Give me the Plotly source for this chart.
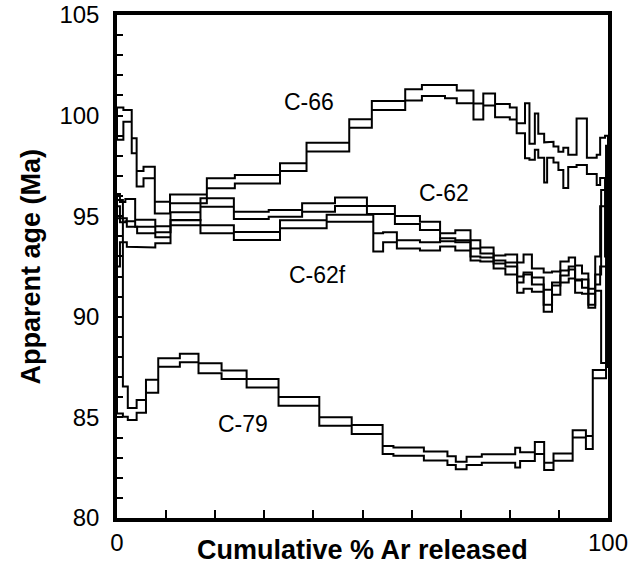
import plotly.graph_objects as go

# ---- data: step edges (cumulative % 39Ar released), apparent ages (Ma), half-heights of boxes (Ma)
c66_edges = [0, 1.3, 3.0, 4.0, 5.4, 7.7, 10.8, 18.3, 24.0, 33.2, 38.6, 47.3, 51.9, 58.7, 62.1, 66.8,
             69.2, 72.6, 74.6, 77.0, 80.0, 81.4, 83.1, 84.0, 85.1, 85.8, 87.0, 87.6, 88.9, 89.9, 90.9,
             91.9, 93.6, 95.7, 97.7, 98.4, 99.4, 100]
c66_age = [99.6, 99.99, 98.5, 96.86, 97.17, 95.43, 95.86, 96.64, 96.84, 97.44, 98.43, 99.61, 100.5,
           101.03, 101.25, 101.19, 100.93, 100.2, 100.8, 100.25, 100.1, 99.37, 99.25, 98.2, 99.2, 98.5,
           97.67, 98.3, 98.07, 97.75, 97.4, 97.75, 98.7, 97.5, 97.3, 97.9, 96.0]
c66_err = [0.8, 0.29, 0.37, 0.39, 0.29, 0.29, 0.22, 0.25, 0.21, 0.19, 0.22, 0.21, 0.22, 0.28, 0.27,
           0.33, 0.32, 0.4, 0.3, 0.33, 0.3, 0.25, 1.37, 0.4, 0.9, 0.6, 1.0, 0.4, 0.4, 0.45, 1.0, 0.3,
           1.16, 0.4, 0.75, 1.0, 3.0]

c62_edges = [0, 0.6, 1.7, 3.7, 7.8, 10.9, 17.0, 23.8, 30.9, 37.7, 44.4, 50.9, 56.6, 61.7, 65.8, 68.9,
             72.0, 74.0, 76.7, 79.1, 81.5, 82.8, 84.5, 86.9, 88.6, 90.3, 92.0, 93.3, 94.7, 96.0, 97.4,
             98.4, 100]
c62_age = [95.5, 95.2, 95.3, 94.65, 94.35, 95.0, 95.68, 95.04, 95.14, 95.43, 95.72, 95.31, 94.81,
           94.52, 93.95, 94.0, 93.4, 93.2, 92.85, 92.8, 92.2, 92.6, 92.0, 91.4, 91.9, 92.4, 92.65,
           92.2, 91.8, 91.0, 92.3, 94.0]
c62_err = [0.6, 0.5, 0.55, 0.17, 0.15, 0.2, 0.21, 0.18, 0.17, 0.21, 0.21, 0.2, 0.2, 0.2, 0.2, 0.3,
           0.4, 0.25, 0.2, 0.3, 0.5, 0.5, 0.4, 0.8, 0.35, 0.35, 0.3, 0.35, 0.35, 0.4, 0.7, 1.5]

c62f_edges = [0, 0.6, 2.0, 4.1, 7.8, 10.9, 17.0, 23.8, 33.2, 42.7, 52.2, 54.2, 57.0, 61.7, 65.8, 68.9,
              72.0, 74.0, 76.7, 79.1, 81.5, 82.8, 84.5, 86.9, 88.6, 90.3, 92.0, 93.3, 94.7, 96.0, 97.4,
              98.6, 100]
c62f_age = [94.0, 94.3, 93.98, 93.8, 93.8, 94.68, 94.35, 94.02, 94.6, 94.9, 93.7, 93.95, 93.6, 93.5,
            93.7, 93.55, 93.1, 92.95, 92.6, 92.4, 91.6, 91.8, 91.6, 90.8, 91.4, 92.0, 92.2, 91.5, 91.5,
            90.8, 91.7, 92.0]
c62f_err = [1.5, 0.6, 0.5, 0.35, 0.15, 0.13, 0.2, 0.2, 0.2, 0.17, 0.45, 0.25, 0.2, 0.2, 0.2, 0.25,
            0.3, 0.2, 0.2, 0.3, 0.4, 0.4, 0.35, 0.55, 0.3, 0.3, 0.3, 0.3, 0.35, 0.35, 0.4, 4.3]

c79_edges = [0, 1.2, 2.2, 4.0, 5.9, 8.4, 12.8, 16.6, 21.3, 26.4, 32.9, 41.2, 47.8, 54.1, 56.3, 62.5,
             67.3, 69.0, 71.2, 74.3, 81.1, 82.1, 85.1, 87.0, 88.9, 92.8, 95.5, 96.9, 99.6, 100]
c79_age = [90.5, 85.78, 85.17, 85.55, 86.55, 87.73, 87.95, 87.44, 87.12, 86.7, 85.8, 84.8, 84.4,
           83.38, 83.3, 83.08, 82.85, 82.61, 82.84, 82.96, 83.0, 83.05, 83.48, 82.57, 83.03, 84.18,
           83.75, 87.15, 93.0]
c79_err = [5.3, 0.75, 0.3, 0.32, 0.32, 0.21, 0.21, 0.25, 0.21, 0.21, 0.22, 0.21, 0.22, 0.2, 0.21,
           0.22, 0.22, 0.19, 0.21, 0.21, 0.49, 0.22, 0.3, 0.18, 0.18, 0.18, 0.32, 0.21, 5.5]

sample_names = ["C-66", "C-62", "C-62f", "C-79"]
label_x = [39.1, 66.6, 40.9, 25.6]
label_y = [100.7, 96.15, 92.1, 84.65]

x_ticks = list(range(0, 101, 10))
x_ticktext = ["0"] + [""] * 9 + ["100"]
y_ticks = list(range(80, 106))
y_ticktext = [str(v) if v % 5 == 0 else "" for v in y_ticks]


def spectrum_outline(edges, ages, errs):
    """Upper step line left->right, then lower step line right->left, closed."""
    xs, ys = [], []
    n = len(ages)
    for i in range(n):
        hi = ages[i] + errs[i]
        xs += [edges[i], edges[i + 1]]
        ys += [hi, hi]
    for i in reversed(range(n)):
        lo = ages[i] - errs[i]
        xs += [edges[i + 1], edges[i]]
        ys += [lo, lo]
    xs.append(edges[0])
    ys.append(ages[0] + errs[0])
    return xs, ys


fig = go.Figure()
for name, ed, ag, er in [("C-66", c66_edges, c66_age, c66_err),
                         ("C-62", c62_edges, c62_age, c62_err),
                         ("C-62f", c62f_edges, c62f_age, c62f_err),
                         ("C-79", c79_edges, c79_age, c79_err)]:
    xs, ys = spectrum_outline(ed, ag, er)
    fig.add_trace(go.Scatter(x=xs, y=ys, mode="lines", name=name,
                             line=dict(color="black", width=2), hoverinfo="skip"))

for name, lx, ly in zip(sample_names, label_x, label_y):
    fig.add_annotation(x=lx, y=ly, text=name, showarrow=False,
                       font=dict(size=23, color="black", family="Liberation Sans, Arial, sans-serif"),
                       xanchor="center", yanchor="middle")

fig.add_annotation(xref="paper", yref="paper", x=(30 - 117) / 491, y=0.5, text="<b>Apparent age (Ma)</b>",
                   textangle=-90, showarrow=False, xanchor="center", yanchor="middle",
                   font=dict(size=27, color="black", family="Liberation Sans, Arial, sans-serif"))
fig.add_annotation(xref="paper", yref="paper", x=0.5, y=(518 - 550) / 503, text="<b>Cumulative % Ar released</b>",
                   showarrow=False, xanchor="center", yanchor="middle",
                   font=dict(size=27, color="black", family="Liberation Sans, Arial, sans-serif"))

fig.update_layout(
    width=641, height=577,
    margin=dict(l=117, r=33, t=15, b=59, autoexpand=False),
    plot_bgcolor="white", paper_bgcolor="white",
    showlegend=False,
    font=dict(family="Liberation Sans, Arial, sans-serif", color="black"),
    xaxis=dict(range=[0, 100], tickvals=x_ticks, ticktext=x_ticktext, ticks="inside", ticklen=8,
               tickwidth=1.5, tickcolor="black", showline=True, linewidth=3.5, linecolor="black",
               mirror=True, showgrid=False, zeroline=False, tickfont=dict(size=24),
               ticklabelstandoff=0, automargin=False, ticklabeloverflow="allow"),
    yaxis=dict(range=[80, 105], tickvals=y_ticks, ticktext=y_ticktext, ticks="inside", ticklen=6,
               tickwidth=1.5, tickcolor="black", showline=True, linewidth=3.5, linecolor="black",
               mirror=True, showgrid=False, zeroline=False, tickfont=dict(size=24),
               ticklabelstandoff=9, automargin=False, ticklabeloverflow="allow"),
)

# remove the default 8px page margin so the 641x577 figure fills the window exactly
fig.write_html("out.html", config={"displayModeBar": False},
               post_script="document.body.style.margin='0';document.body.style.overflow='hidden';")
